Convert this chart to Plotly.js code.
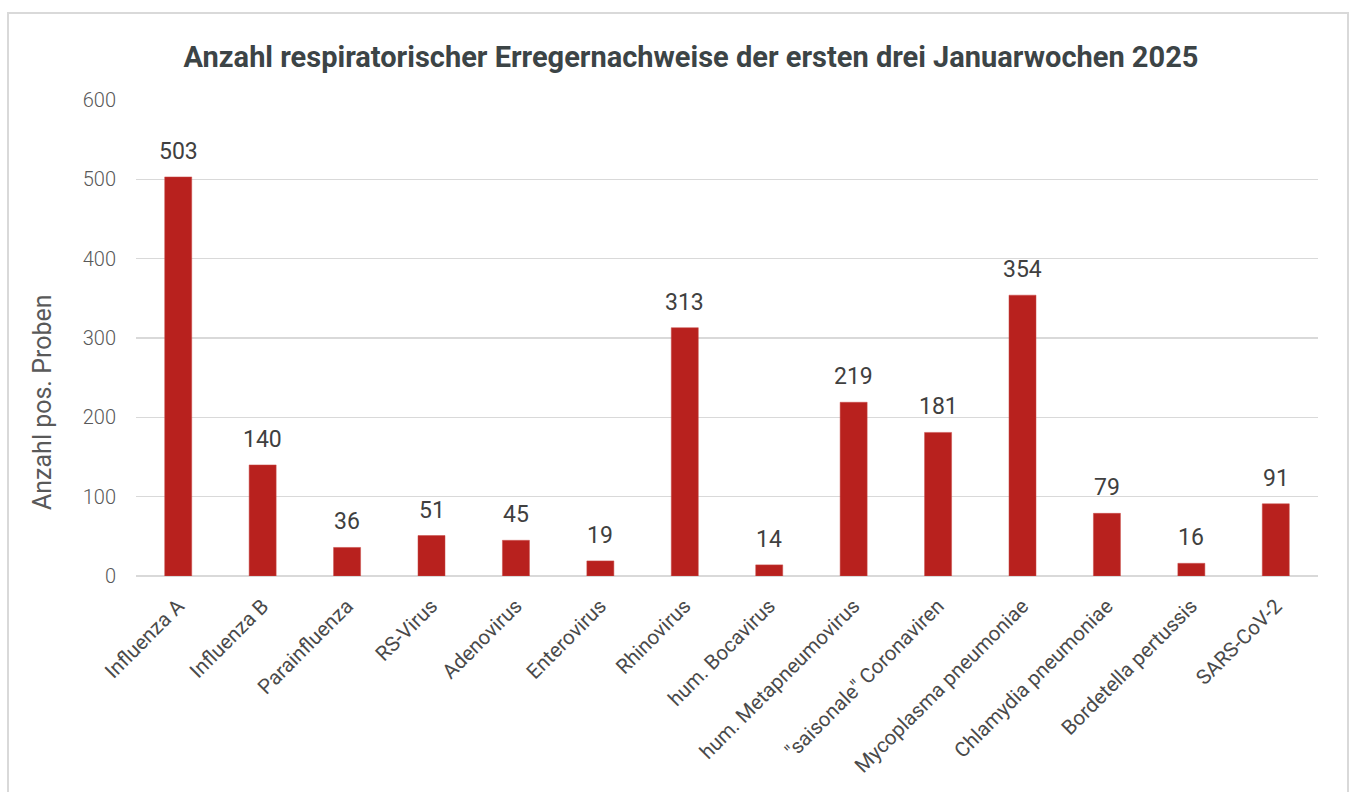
<!DOCTYPE html>
<html><head><meta charset="utf-8">
<script src="https://cdn.plot.ly/plotly-3.0.1.min.js"></script>
<style>
html,body{margin:0;padding:0;background:#fff;}
#frame{position:absolute;left:7px;top:12px;width:1338px;height:800px;border:2px solid #d9d9d9;pointer-events:none;}
#chart{position:absolute;left:0;top:0;width:1350px;height:792px;}
</style></head>
<body>
<div id="chart"></div>
<div id="frame"></div>
<script>
const categories = ["Influenza A","Influenza B","Parainfluenza","RS-Virus","Adenovirus","Enterovirus","Rhinovirus","hum. Bocavirus","hum. Metapneumovirus","\"saisonale\" Coronaviren","Mycoplasma pneumoniae","Chlamydia pneumoniae","Bordetella pertussis","SARS-CoV-2"];
const values = [503,140,36,51,45,19,313,14,219,181,354,79,16,91];
const yTicks = [0,100,200,300,400,500,600];

const annotations = categories.map((c,i)=>({
  x:c, y:values[i], xref:'x', yref:'y', text:String(values[i]),
  showarrow:false, yanchor:'bottom', yshift:10,
  font:{family:'Roboto', size:23, color:'#404040'}
}));
annotations.push({
  text:'Anzahl pos. Proben', textangle:-90, showarrow:false,
  xref:'paper', yref:'paper', x:0, y:(576-402)/476, xanchor:'center', yanchor:'middle',
  xshift:-94, font:{family:'Roboto', size:25, color:'#595959'}
});

Plotly.newPlot('chart',[{
  type:'bar', x:categories, y:values,
  marker:{color:'#B8211E', line:{color:'#c94a47', width:0.5}},
  hoverinfo:'x+y'
}],{
  width:1350, height:792,
  margin:{l:136, r:32, t:100, b:216, pad:0},
  paper_bgcolor:'rgba(0,0,0,0)', plot_bgcolor:'rgba(0,0,0,0)',
  bargap:0.68,
  title:{text:'<b>Anzahl respiratorischer Erregernachweise der ersten drei Januarwochen 2025</b>',
    font:{family:'Roboto', size:29, color:'#3c4446'}, x:691/1350, xanchor:'center', xref:'container', y:1-57/792, yanchor:'middle'},
  xaxis:{type:'category', tickangle:-45, tickfont:{family:'Roboto', size:20.5, color:'#4a4a4a'},
    showgrid:false, showline:false, ticks:'outside', ticklen:9, tickcolor:'rgba(0,0,0,0)', automargin:false},
  yaxis:{range:[0,600], tickvals:yTicks, ticktext:yTicks.map(String),
    tickfont:{family:'Roboto', size:20, color:'#595959', weight:300},
    gridcolor:'#d9d9d9', gridwidth:1.5, zeroline:true, zerolinecolor:'#d9d9d9', zerolinewidth:1.5,
    showline:false, ticks:'outside', ticklen:15, tickcolor:'rgba(0,0,0,0)', automargin:false},
  annotations:annotations,
  showlegend:false
},{displayModeBar:false, staticPlot:true});
</script>
</body></html>
